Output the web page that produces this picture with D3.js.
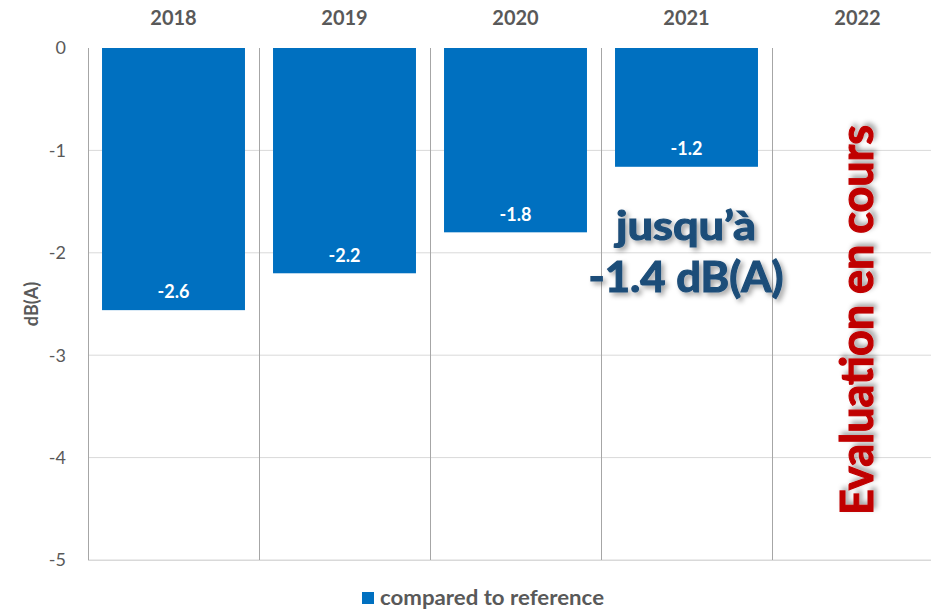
<!DOCTYPE html>
<html><head><meta charset="utf-8">
<script src="https://cdn.jsdelivr.net/npm/d3@7"></script>
<style>body{margin:0;background:#fff;}svg{display:block;font-family:Lato,"Open Sans",sans-serif;}</style>
</head><body>
<svg id="c" width="931" height="609"></svg>
<script>
const years = ["2018","2019","2020","2021","2022"];
const values = [-2.56, -2.2, -1.8, -1.16, null];
const yTicks = [0,-1,-2,-3,-4,-5];
const seriesName = "compared to reference";
const noteLines = ["jusqu\u2019à","-1.4 dB(A)"];
const sideNote = "Evaluation en cours";

const svg = d3.select("#c");
const defs = svg.append("defs");
const f = defs.append("filter").attr("id","sh").attr("x","-20%").attr("y","-20%").attr("width","140%").attr("height","140%");
f.append("feDropShadow").attr("dx",3).attr("dy",3).attr("stdDeviation",2.5).attr("flood-color","#000").attr("flood-opacity",0.35);

const L=88, R=943, T=48, B=560;
const x = d3.scaleBand().domain(years).range([L,R]).padding(0);
const y = d3.scaleLinear().domain([-5,0]).range([B,T]);

// horizontal gridlines
svg.append("g").selectAll("line").data(yTicks.filter(d=>d!==0)).join("line")
  .attr("x1",L).attr("x2",R).attr("y1",d=>y(d)).attr("y2",d=>y(d))
  .attr("stroke","#d9d9d9").attr("stroke-width",1);

// y tick labels
svg.append("g").selectAll("text").data(yTicks).join("text")
  .attr("x",66).attr("y",d=>y(d)).attr("dy","0.35em").attr("text-anchor","end")
  .attr("font-size",18).attr("fill","#595959").text(d=>d);

// bars
const bw = x.bandwidth()*0.836;
const bars = years.map((yr,i)=>({yr,v:values[i]})).filter(d=>d.v!==null);
svg.append("g").selectAll("rect").data(bars).join("rect")
  .attr("x",d=>x(d.yr)+(x.bandwidth()-bw)/2).attr("width",bw)
  .attr("y",y(0)).attr("height",d=>y(d.v)-y(0)).attr("fill","#0070c0");

// vertical separators
svg.append("g").selectAll("line").data(years.map(d=>x(d)).concat([R])).join("line")
  .attr("x1",d=>Math.round(d)+0.5).attr("x2",d=>Math.round(d)+0.5).attr("y1",T).attr("y2",B)
  .attr("stroke","#a6a6a6").attr("stroke-width",1);

// bottom line
svg.append("line").attr("x1",L).attr("x2",R).attr("y1",B+0.5).attr("y2",B+0.5).attr("stroke","#d9d9d9");

// data labels
svg.append("g").selectAll("text").data(bars).join("text")
  .attr("x",d=>x(d.yr)+x.bandwidth()/2).attr("y",d=>y(d.v)-18).attr("dy","0.35em")
  .attr("text-anchor","middle").attr("font-size",18).attr("font-weight","bold").attr("fill","#fff")
  .text(d=>d.v.toFixed(1));

// year labels
svg.append("g").selectAll("text").data(years).join("text")
  .attr("x",d=>x(d)+x.bandwidth()/2).attr("y",18).attr("dy","0.35em")
  .attr("text-anchor","middle").attr("font-size",20).attr("font-weight","bold").attr("fill","#595959")
  .text(d=>d);

// y axis title
svg.append("text").attr("transform","translate(38,304) rotate(-90)").attr("text-anchor","middle")
  .attr("font-size",18).attr("font-weight","bold").attr("fill","#595959").text("dB(A)");

// note
const big = (sel)=>sel.attr("font-weight","bold").attr("filter","url(#sh)").attr("stroke-width",1.2).attr("lengthAdjust","spacingAndGlyphs");
big(svg.append("text").attr("x",686).attr("y",240).attr("text-anchor","middle").attr("font-size",40)
  .attr("fill","#1f4e79").attr("stroke","#1f4e79").attr("textLength",140)).text(noteLines[0]);
big(svg.append("text").attr("x",686).attr("y",292).attr("text-anchor","middle").attr("font-size",42)
  .attr("fill","#1f4e79").attr("stroke","#1f4e79").attr("textLength",195)).text(noteLines[1]);

// side note
big(svg.append("text").attr("transform","translate(873,320) rotate(-90)").attr("text-anchor","middle")
  .attr("font-size",46).attr("fill","#c00000").attr("stroke","#c00000").attr("textLength",390)).text(sideNote);

// legend
const lg = svg.append("g");
lg.append("rect").attr("x",362).attr("y",592).attr("width",12).attr("height",12).attr("fill","#0070c0");
lg.append("text").attr("x",380).attr("y",598).attr("dy","0.35em").attr("font-size",20)
  .attr("font-weight","bold").attr("fill","#595959").attr("textLength",224).attr("lengthAdjust","spacingAndGlyphs").text(seriesName);
</script>
</body></html>
